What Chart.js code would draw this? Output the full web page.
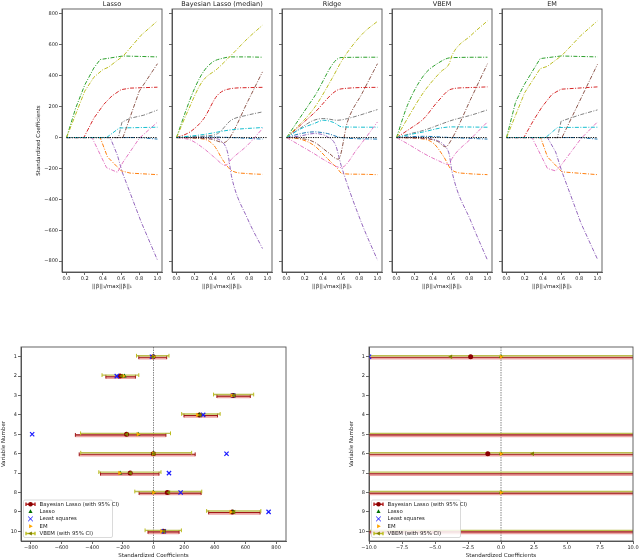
<!DOCTYPE html>
<html>
<head>
<meta charset="utf-8">
<script src="https://cdn.jsdelivr.net/npm/chart.js"></script>
<style>
  html, body { margin: 0; padding: 0; background: #fff; overflow: hidden; }
  #fig { position: relative; width: 640px; height: 560px; overflow: hidden; }
  #fig canvas { position: absolute; }
</style>
</head>
<body>
<div id="fig"></div>
<script>
// ---- top row: coefficient paths, one list of [x, y] points per variable ----
const pathTicksX = [0, 0.2, 0.4, 0.6, 0.8, 1.0];
const pathTicksY = [-800, -600, -400, -200, 0, 200, 400, 600, 800];
const panelTitles = ['Lasso', 'Bayesian Lasso (median)', 'Ridge', 'VBEM', 'EM'];

const lassoPaths = [
  [[0, 0], [0.8, 0], [1, -10]],
  [[0, 0], [0.37, 0], [0.45, -125], [0.6, -215], [0.7, -230], [1, -240]],
  [[0, 0], [0.1, 190], [0.2, 340], [0.3, 450], [0.37, 505], [0.62, 528], [1, 522]],
  [[0, 0], [0.19, 0], [0.3, 125], [0.41, 215], [0.5, 270], [0.6, 310], [0.7, 320], [1, 326]],
  [[0, 0], [0.48, 0], [0.56, -115], [0.61, -220], [0.82, -545], [1, -793]],
  [[0, 0], [0.62, 0], [0.8, 300], [1, 478]],
  [[0, 0], [0.28, 0], [0.44, -195], [0.56, -225], [0.62, -160], [0.8, -5], [1, 100]],
  [[0, 0], [0.57, 0], [0.61, 100], [0.7, 125], [0.85, 145], [1, 178]],
  [[0, 0], [0.1, 150], [0.2, 300], [0.3, 390], [0.4, 440], [0.46, 455], [0.63, 532], [0.82, 662], [1, 755]],
  [[0, 0], [0.44, 0], [0.58, 62], [1, 67]]
];
const bayesPaths = [
  [[0, 0], [0.3, 5], [0.6, 0], [0.945, -10]],
  [[0, 0], [0.3, -10], [0.41, -50], [0.52, -155], [0.61, -215], [0.78, -233], [0.945, -238]],
  [[0, 0], [0.1, 170], [0.2, 320], [0.3, 430], [0.4, 490], [0.5, 512], [0.6, 522], [0.75, 522], [0.945, 520]],
  [[0, 0], [0.15, 37], [0.3, 123], [0.45, 274], [0.6, 317], [0.78, 323], [0.945, 325]],
  [[0, 0], [0.4, -5], [0.485, -20], [0.56, -93], [0.61, -265], [0.78, -524], [0.945, -718]],
  [[0, 0], [0.375, -10], [0.52, -32], [0.58, -5], [0.78, 230], [0.945, 425]],
  [[0, 0], [0.15, -15], [0.3, -71], [0.41, -125], [0.54, -180], [0.61, -136], [0.78, -50], [0.945, 58]],
  [[0, 0], [0.3, 10], [0.45, 25], [0.6, 112], [0.78, 145], [0.945, 166]],
  [[0, 0], [0.12, 166], [0.28, 360], [0.45, 446], [0.6, 532], [0.78, 640], [0.945, 727]],
  [[0, 0], [0.3, 20], [0.6, 50], [0.945, 65]]
];
const ridgePaths = [
  [[0, 0], [0.15, 25], [0.3, 37], [0.45, 26], [0.6, 0], [1, -10]],
  [[0, 0], [0.15, -10], [0.3, -50], [0.45, -136], [0.56, -200], [0.61, -233], [0.78, -237], [1, -240]],
  [[0, 0], [0.3, 260], [0.6, 518], [1, 520]],
  [[0, 0], [0.3, 157], [0.6, 315], [1, 325]],
  [[0, 0], [0.15, 10], [0.3, 26], [0.45, 5], [0.54, -50], [0.6, -179], [0.82, -545], [1, -793]],
  [[0, 0], [0.15, -5], [0.3, -28], [0.45, -93], [0.57, -140], [0.67, 101], [0.83, 285], [1, 478]],
  [[0, 0], [0.3, -103], [0.45, -157], [0.6, -194], [0.78, -71], [1, 101]],
  [[0, 0], [0.15, 60], [0.3, 112], [0.41, 123], [0.56, 112], [0.67, 123], [1, 181]],
  [[0, 0], [0.3, 188], [0.5, 382], [0.6, 489], [0.7, 576], [0.85, 680], [1, 752]],
  [[0, 0], [0.15, 55], [0.3, 90], [0.41, 112], [0.52, 97], [0.61, 69], [1, 67]]
];
const vbemPaths = [
  [[0, 0], [0.15, 5], [0.3, 8], [0.6, 0], [1, -10]],
  [[0, 0], [0.3, -10], [0.41, -39], [0.52, -125], [0.61, -211], [0.78, -233], [1, -240]],
  [[0, 0], [0.12, 209], [0.3, 403], [0.45, 479], [0.6, 517], [1, 520]],
  [[0, 0], [0.15, 58], [0.3, 123], [0.45, 231], [0.6, 313], [0.78, 323], [1, 328]],
  [[0, 0], [0.3, -5], [0.45, -20], [0.54, -60], [0.58, -110], [0.61, -220], [0.82, -545], [1, -793]],
  [[0, 0], [0.3, -5], [0.45, -25], [0.54, -60], [0.6, -17], [0.82, 254], [1, 478]],
  [[0, 0], [0.15, -50], [0.3, -103], [0.45, -147], [0.58, -175], [0.61, -136], [0.82, -6], [1, 101]],
  [[0, 0], [0.15, 25], [0.3, 47], [0.485, 86], [0.61, 112], [0.82, 145], [1, 179]],
  [[0, 0], [0.12, 123], [0.3, 295], [0.485, 425], [0.58, 479], [0.61, 532], [0.82, 662], [1, 755]],
  [[0, 0], [0.15, 20], [0.3, 37], [0.485, 62], [0.61, 69], [1, 67]]
];
const emPaths = [
  [[0, 0], [0.8, 0], [1, -10]],
  [[0, 0], [0.375, 0], [0.45, -125], [0.61, -222], [1, -240]],
  [[0, 0], [0.1, 231], [0.19, 338], [0.37, 511], [0.6, 528], [1, 522]],
  [[0, 0], [0.19, 0], [0.3, 115], [0.39, 198], [0.5, 280], [0.6, 313], [1, 328]],
  [[0, 0], [0.45, 0], [0.54, -93], [0.61, -222], [0.82, -556], [1, -787]],
  [[0, 0], [0.61, 0], [1, 474]],
  [[0, 0], [0.28, 0], [0.45, -200], [0.54, -216], [0.6, -179], [0.82, -6], [1, 101]],
  [[0, 0], [0.56, 0], [0.6, 106], [0.82, 149], [1, 179]],
  [[0, 0], [0.2, 291], [0.37, 446], [0.45, 461], [0.61, 532], [0.82, 662], [1, 755]],
  [[0, 0], [0.43, 0], [0.56, 65], [1, 67]]
];

// ---- bottom row: estimates per variable ----
const varNumbers = [1, 2, 3, 4, 5, 6, 7, 8, 9, 10];
const blMedian = [-2.3, -219, 520, 300, -176, -1.0, -152, 90, 514, 65];
const blLow = [-96, -311, 414, 199, -510, -485, -346, -94, 360, -36];
const blHigh = [86, -118, 632, 418, 81, 272, 36, 311, 696, 167];
const vbemMean = [-3.8, -208, 525, 305, -174, 2.4, -150, 100, 525, 70];
const vbemLow = [-111, -336, 392, 184, -476, -475, -357, -122, 347, -55];
const vbemHigh = [101, -96, 654, 435, 111, 249, 49, 315, 701, 182];
const lassoCoef = [0, -190, 522, 300, -100, 0, -218, 0, 519, 60];
const lsCoef = [-10.0, -239.8, 519.8, 324.4, -792.2, 476.7, 101.0, 177.1, 751.3, 67.6];
const emCoef = [0, -197, 512, 287, -102, 0, -222, 0, 505, 52];
const wideTicks = [-800, -600, -400, -200, 0, 200, 400, 600, 800];
const zoomTicks = [-10, -7.5, -5, -2.5, 0, 2.5, 5, 7.5, 10];
const legendLabels = ['Bayesian Lasso (with 95% CI)', 'Lasso', 'Least squares', 'EM', 'VBEM (with 95% CI)'];

// styles
const tab10 = ['#1f77b4', '#ff7f0e', '#2ca02c', '#d62728', '#9467bd',
               '#8c564b', '#e377c2', '#7f7f7f', '#bcbd22', '#17becf'];
const INK = '#222';

Chart.defaults.font.family = "'DejaVu Sans', sans-serif";
Chart.defaults.color = INK;
Chart.defaults.animation = false;

const fmt = (v, d) => (v < 0 ? '\u2212' : '') + Math.abs(v).toFixed(d);

// box round every axes, like matplotlib spines
const framePlugin = {
  id: 'frame',
  afterDatasetsDraw(chart) {
    const { ctx, chartArea: a } = chart;
    ctx.save();
    ctx.strokeStyle = '#555';
    ctx.lineWidth = 0.9;
    ctx.strokeRect(a.left, a.top, a.right - a.left, a.bottom - a.top);
    ctx.restore();
  }
};

const panelTitlePlugin = {
  id: 'panelTitle',
  afterDraw(chart, args, opts) {
    if (!opts.text) return;
    const { ctx, chartArea: a } = chart;
    ctx.save();
    ctx.fillStyle = INK;
    ctx.font = "6.5px 'DejaVu Sans'";
    ctx.textAlign = 'center';
    ctx.textBaseline = 'middle';
    ctx.fillText(opts.text, (a.left + a.right) / 2, 4.5);
    ctx.restore();
  }
};

function mark(ctx, kind, x, y, r, color) {
  ctx.save();
  ctx.translate(x, y);
  ctx.fillStyle = color;
  ctx.strokeStyle = color;
  ctx.lineWidth = 1;
  ctx.beginPath();
  if (kind === 'circle') {
    ctx.arc(0, 0, r, 0, Math.PI * 2);
    ctx.fill();
  } else if (kind === 'cross') {
    ctx.moveTo(-r, -r); ctx.lineTo(r, r);
    ctx.moveTo(-r, r); ctx.lineTo(r, -r);
    ctx.stroke();
  } else {
    ctx.rotate({ up: 0, right: Math.PI / 2, left: -Math.PI / 2 }[kind]);
    ctx.moveTo(0, -r);
    ctx.lineTo(r * 0.9, r * 0.6);
    ctx.lineTo(-r * 0.9, r * 0.6);
    ctx.closePath();
    ctx.fill();
  }
  ctx.restore();
}

const legendMarks = [
  { kind: 'circle', color: '#8b0000', bar: '#b22222' },
  { kind: 'up', color: '#007000' },
  { kind: 'cross', color: '#1a1aff' },
  { kind: 'right', color: '#ffa500' },
  { kind: 'left', color: '#808000', bar: '#bcbd22' }
];

// legend box in the lower left corner of the axes
const insideLegend = {
  id: 'insideLegend',
  afterDraw(chart, args, opts) {
    if (!opts.show) return;
    const { ctx, chartArea: a } = chart;
    const x0 = a.left + 2.5, y0 = a.bottom - 41, w = 89, h = 37.5;
    ctx.save();
    ctx.fillStyle = 'rgba(255,255,255,0.85)';
    ctx.strokeStyle = '#d0d0d0';
    ctx.lineWidth = 0.8;
    ctx.beginPath();
    ctx.roundRect(x0, y0, w, h, 1.5);
    ctx.fill();
    ctx.stroke();
    legendLabels.forEach((label, i) => {
      const y = y0 + 4.3 + i * 7.3;
      const mx = x0 + 7;
      const st = legendMarks[i];
      if (st.bar) {
        ctx.strokeStyle = st.bar;
        ctx.lineWidth = 1.4;
        ctx.beginPath();
        ctx.moveTo(mx - 4.5, y); ctx.lineTo(mx + 4.5, y);
        ctx.moveTo(mx - 4.5, y - 1.8); ctx.lineTo(mx - 4.5, y + 1.8);
        ctx.moveTo(mx + 4.5, y - 1.8); ctx.lineTo(mx + 4.5, y + 1.8);
        ctx.stroke();
      }
      mark(ctx, st.kind, mx, y, 2.3, st.color);
      ctx.fillStyle = INK;
      ctx.font = "5.4px 'DejaVu Sans'";
      ctx.textBaseline = 'middle';
      ctx.textAlign = 'left';
      ctx.fillText(label, x0 + 16, y);
    });
    ctx.restore();
  }
};

function addCanvas(left, top, w, h) {
  const c = document.createElement('canvas');
  c.width = w; c.height = h;
  c.style.left = left + 'px'; c.style.top = top + 'px';
  c.style.width = w + 'px'; c.style.height = h + 'px';
  document.getElementById('fig').appendChild(c);
  return c;
}

const tickGrid = { display: true, drawOnChartArea: false, drawTicks: true, tickLength: 3, color: '#444', lineWidth: 0.8 };

// ---- top row ----
const allPaths = [lassoPaths, bayesPaths, ridgePaths, vbemPaths, emPaths];
const smoothPanel = [false, true, true, true, false];
const panelLefts = [62, 172, 282, 392, 502];

allPaths.forEach((paths, k) => {
  const first = k === 0;
  const yw = first ? 27 : 5;
  const canvas = addCanvas(panelLefts[k] - yw, 0, yw + 100 + 5, 290);
  const datasets = paths.map((pts, i) => ({
    data: pts.map(p => ({ x: p[0], y: p[1] })),
    borderColor: tab10[i],
    borderWidth: 1,
    borderDash: [4, 1.5, 1, 1.5],
    showLine: true,
    pointRadius: 0,
    cubicInterpolationMode: smoothPanel[k] ? 'monotone' : 'default',
    tension: 0,
    order: 20 - i
  }));
  datasets.push({
    data: [{ x: 0, y: 0 }, { x: 1, y: 0 }],
    borderColor: '#000', borderWidth: 1, borderDash: [1.2, 1.2],
    showLine: true, pointRadius: 0, order: 0
  });
  new Chart(canvas, {
    type: 'scatter',
    data: { datasets },
    plugins: [framePlugin, panelTitlePlugin],
    options: {
      responsive: false,
      layout: { padding: { left: 0, top: 9, right: 5, bottom: 0 } },
      plugins: { legend: { display: false }, tooltip: { enabled: false }, panelTitle: { text: panelTitles[k] } },
      scales: {
        x: {
          type: 'linear', min: -0.05, max: 1.05,
          afterBuildTicks: s => { s.ticks = pathTicksX.map(v => ({ value: v })); },
          afterFit: s => { s.height = 18; },
          grid: tickGrid, border: { color: '#555' },
          ticks: { font: { size: 5 }, color: INK, padding: 0.5, maxRotation: 0, autoSkip: false, callback: v => fmt(v, 1) },
          title: { display: true, text: '||β||₁/max||β||₁', font: { size: 5.5 }, color: INK, padding: 0 }
        },
        y: {
          type: 'linear', min: -870, max: 832,
          afterBuildTicks: s => { s.ticks = pathTicksY.map(v => ({ value: v })); },
          afterFit: s => { s.width = yw; },
          grid: tickGrid, border: { color: '#555' },
          ticks: { font: { size: 5 }, color: INK, padding: 1, autoSkip: false, callback: v => first ? fmt(v, 0) : '' },
          title: { display: first, text: 'Standardized Coefficients', font: { size: 5.5 }, color: INK, padding: 0 }
        }
      }
    }
  });
});

// ---- bottom row ----
function segments(lo, hi, dy) {
  const d = [];
  varNumbers.forEach((r, i) => {
    d.push({ x: lo[i], y: r + dy }, { x: hi[i], y: r + dy }, { x: hi[i], y: null });
  });
  return d;
}
function points(vals) {
  return varNumbers.map((r, i) => ({ x: vals[i], y: r }));
}

function coefPanel(left, plotW, xmin, xmax, xticks, dec) {
  const yw = 21;
  const canvas = addCanvas(left, 340, yw + plotW + 8, 219);
  const datasets = [
    { data: [{ x: 0, y: 0.5 }, { x: 0, y: 10.5 }], borderColor: '#555', borderWidth: 0.7,
      borderDash: [1.5, 1], showLine: true, pointRadius: 0, order: 30 },
    { data: segments(blLow, blHigh, 0.08), borderColor: 'rgba(220,90,90,0.55)', borderWidth: 2.6,
      showLine: true, pointRadius: 0, order: 29 },
    { data: segments(blLow, blHigh, 0.03), borderColor: '#a01818', borderWidth: 1.1,
      showLine: true, pointStyle: 'line', rotation: 90, pointRadius: 1.9,
      pointBorderColor: '#a01818', pointBorderWidth: 1, order: 28 },
    { data: segments(vbemLow, vbemHigh, -0.05), borderColor: 'rgba(175,180,50,0.85)', borderWidth: 1.4,
      showLine: true, pointStyle: 'line', rotation: 90, pointRadius: 1.9,
      pointBorderColor: '#bcbd22', pointBorderWidth: 1, order: 27 },
    { data: points(blMedian), pointStyle: 'circle', pointRadius: 2.5,
      pointBackgroundColor: '#8b0000', pointBorderColor: '#8b0000', pointBorderWidth: 0, order: 26 },
    { data: points(lassoCoef), pointStyle: 'triangle', pointRadius: 2.6,
      pointBackgroundColor: '#007000', pointBorderColor: '#007000', pointBorderWidth: 0, order: 25 },
    { data: points(lsCoef), pointStyle: 'crossRot', pointRadius: 3,
      pointBorderColor: '#1a1aff', pointBorderWidth: 1.2, order: 24 },
    { data: points(emCoef), pointStyle: 'triangle', rotation: 90, pointRadius: 2.6,
      pointBackgroundColor: '#ffa500', pointBorderColor: '#ffa500', pointBorderWidth: 0, order: 23 },
    { data: points(vbemMean), pointStyle: 'triangle', rotation: -90, pointRadius: 2.6,
      pointBackgroundColor: '#808000', pointBorderColor: '#808000', pointBorderWidth: 0, order: 22 }
  ];
  new Chart(canvas, {
    type: 'scatter',
    data: { datasets },
    plugins: [framePlugin, insideLegend],
    options: {
      responsive: false,
      layout: { padding: { left: 0, top: 7, right: 8, bottom: 0 } },
      plugins: { legend: { display: false }, tooltip: { enabled: false }, insideLegend: { show: true } },
      scales: {
        x: {
          type: 'linear', min: xmin, max: xmax,
          afterBuildTicks: s => { s.ticks = xticks.map(v => ({ value: v })); },
          afterFit: s => { s.height = 18; },
          grid: tickGrid, border: { color: '#555' },
          ticks: { font: { size: 5 }, color: INK, padding: 0.5, maxRotation: 0, autoSkip: false, callback: v => fmt(v, dec) },
          title: { display: true, text: 'Standardized Coefficients', font: { size: 5.5 }, color: INK, padding: 0 }
        },
        y: {
          type: 'linear', min: 0.5, max: 10.5, reverse: true,
          afterBuildTicks: s => { s.ticks = varNumbers.map(v => ({ value: v })); },
          afterFit: s => { s.width = yw; },
          grid: tickGrid, border: { color: '#555' },
          ticks: { font: { size: 5 }, color: INK, padding: 1, autoSkip: false, callback: v => String(v) },
          title: { display: true, text: 'Variable Number', font: { size: 5.5 }, color: INK, padding: 0 }
        }
      }
    }
  });
}

coefPanel(0, 265, -865, 865, wideTicks, 0);
coefPanel(348, 264, -10, 10, zoomTicks, 1);
</script>
</body>
</html>
